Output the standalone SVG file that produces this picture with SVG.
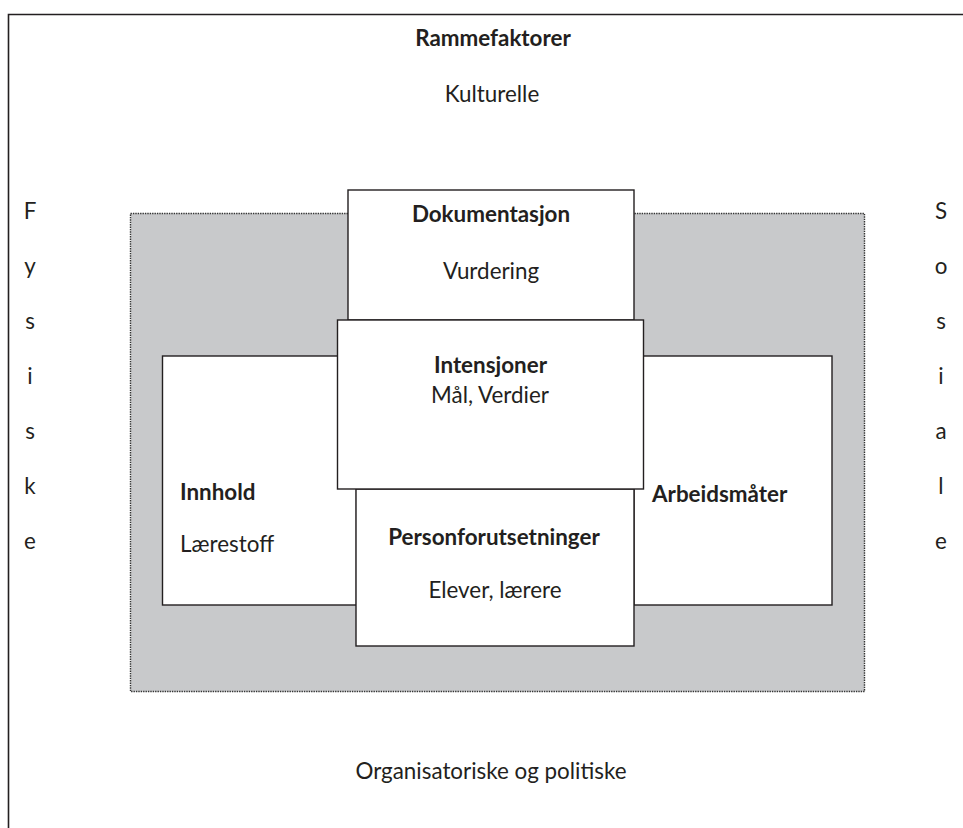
<svg xmlns="http://www.w3.org/2000/svg" width="963" height="828" viewBox="0 0 963 828">
<style>
.t{font-family:Lato,"Open Sans","Liberation Sans",sans-serif;font-size:22.4px;fill:#231f20}
.b{font-weight:bold}
.m{text-anchor:middle}
.box{fill:#fff;stroke:#231f20;stroke-width:1.4}
</style>
<rect width="963" height="828" fill="#fff"/>
<g id="frame">
<path d="M8.5,828 V14.5 H963" fill="none" stroke="#231f20" stroke-width="1.6"/>
<text class="t b m" x="493" y="46">Rammefaktorer</text>
<text class="t m" x="492" y="102">Kulturelle</text>
<text class="t m" x="491" y="779">Organisatoriske og politiske</text>
<g class="t m">
<text x="30" y="219">F</text><text x="30" y="274">y</text><text x="30" y="329">s</text><text x="30" y="384">i</text><text x="30" y="439">s</text><text x="30" y="494">k</text><text x="30" y="549">e</text>
<text x="941" y="219">S</text><text x="941" y="274">o</text><text x="941" y="329">s</text><text x="941" y="384">i</text><text x="941" y="439">a</text><text x="941" y="494">l</text><text x="941" y="549">e</text>
</g>
</g>
<g id="area">
<rect x="130.5" y="213.5" width="734" height="478" fill="#c8c9cb" stroke="#333" stroke-width="1.4" stroke-dasharray="1.4 1"/>
</g>
<g id="dokumentasjon">
<rect class="box" x="348" y="190" width="286" height="130"/>
<text class="t b m" x="491" y="222">Dokumentasjon</text>
<text class="t m" x="491" y="279">Vurdering</text>
</g>
<g id="innhold">
<rect class="box" x="162.5" y="356" width="194" height="249"/>
<text class="t b" x="180" y="500">Innhold</text>
<text class="t" x="180" y="552">Lærestoff</text>
</g>
<g id="arbeidsmater">
<rect class="box" x="634" y="356" width="198" height="249"/>
<text class="t b" x="652" y="502">Arbeidsmåter</text>
</g>
<g id="personforutsetninger">
<rect class="box" x="356" y="489" width="278" height="157"/>
<text class="t b m" x="494" y="545">Personforutsetninger</text>
<text class="t m" x="495" y="598">Elever, lærere</text>
</g>
<g id="intensjoner">
<rect class="box" x="337.5" y="320" width="306" height="169"/>
<text class="t b m" x="490.5" y="373">Intensjoner</text>
<text class="t m" x="490" y="403">Mål, Verdier</text>
</g>
<g id="connectors"></g>
</svg>
